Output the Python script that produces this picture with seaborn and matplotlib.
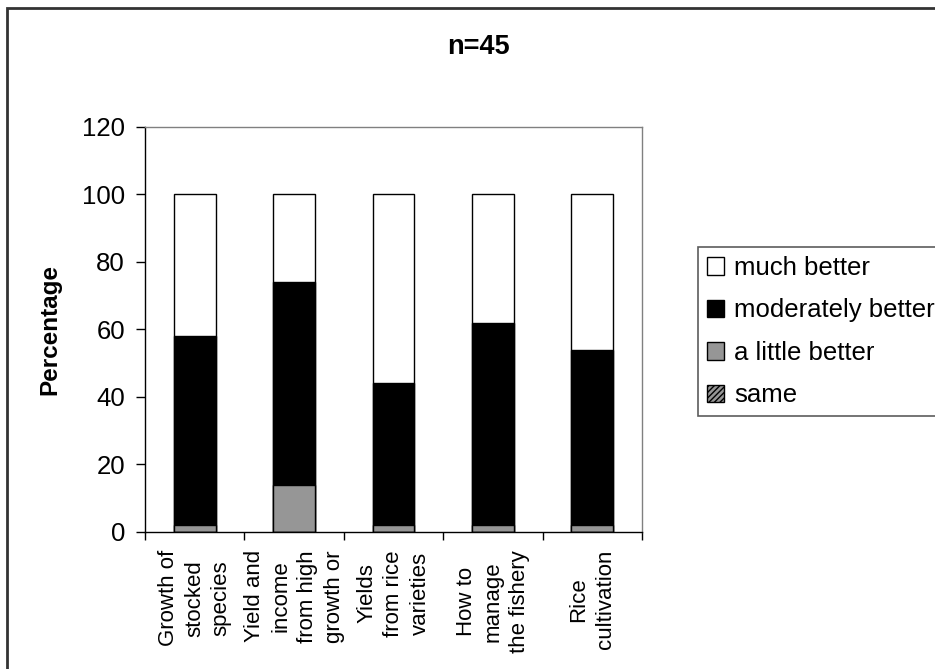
import matplotlib
matplotlib.use("Agg")
import matplotlib.pyplot as plt
from matplotlib.patches import Patch, Rectangle
import numpy as np
import pandas as pd
import seaborn as sns

categories = ["Growth of\nstocked\nspecies",
              "Yield and\nincome\nfrom high\ngrowth or",
              "Yields\nfrom rice\nvarieties",
              "How to\nmanage\nthe fishery",
              "Rice\ncultivation"]
same = [0, 0, 0, 0, 0]
little_better = [2, 14, 2, 2, 2]
moderately_better = [56, 60, 42, 60, 52]
much_better = [42, 26, 56, 38, 46]
yticks = [0, 20, 40, 60, 80, 100, 120]

sns.set_style("white")
plt.rcParams['font.family'] = ['Liberation Sans', 'DejaVu Sans']
plt.rcParams['text.color'] = 'black'
plt.rcParams['axes.labelcolor'] = 'black'
plt.rcParams['xtick.color'] = 'black'
plt.rcParams['ytick.color'] = 'black'

df = pd.DataFrame({"cat": categories, "same": same, "little": little_better,
                   "moderate": moderately_better, "much": much_better})
# cumulative tops, drawn back to front so each layer covers the one above
df["top_same"] = df["same"]
df["top_little"] = df["top_same"] + df["little"]
df["top_moderate"] = df["top_little"] + df["moderate"]
df["top_much"] = df["top_moderate"] + df["much"]

fig = plt.figure(figsize=(9.35, 6.69), dpi=100)
ax = fig.add_axes([0.1551, 0.2048, 0.5316, 0.6054])

layers = [("top_much", "white"), ("top_moderate", "black"),
          ("top_little", "#969696")]
for col, color in layers:
    sns.barplot(data=df, x="cat", y=col, order=categories, color=color,
                width=0.42, edgecolor="black", linewidth=1.0, saturation=1,
                ax=ax, zorder=2)
sns.barplot(data=df, x="cat", y="top_same", order=categories, color="#969696",
            width=0.42, edgecolor="black", linewidth=1.0, saturation=1,
            hatch="//////", ax=ax, zorder=3)

ax.set_ylim(0, 120)
ax.set_xlim(-0.5, len(categories) - 0.5)
ax.set_yticks(yticks)
ax.set_yticklabels([str(v) for v in yticks], fontsize=18.5)
ax.tick_params(axis="y", direction="out", length=6.5, width=1, pad=8,
               left=True, color="black")

ax.set_xticks(range(len(categories)))
ax.set_xticklabels(categories, rotation=90, fontsize=16, ha="center",
                   va="top", multialignment="center", linespacing=1.35)
ax.set_xticks(np.arange(-0.5, len(categories)), minor=True)
ax.tick_params(axis="x", which="major", length=0, pad=13)
ax.tick_params(axis="x", which="minor", direction="out", length=6, width=1,
               bottom=True, color="black")
ax.set_xlabel("")

ax.set_ylabel("Percentage", fontsize=17.5, fontweight="bold")
ax.yaxis.set_label_coords(-0.168, 0.5)

for side in ["left", "bottom"]:
    ax.spines[side].set_color("black")
    ax.spines[side].set_linewidth(1.0)
for side in ["top", "right"]:
    ax.spines[side].set_color("#808080")
    ax.spines[side].set_linewidth(1.0)

fig.text(478 / 935, 1 - 47 / 669, "n=45", ha="center", va="center",
         fontsize=19.5, fontweight="bold")

handles = [Patch(facecolor="white", edgecolor="black", label="much better"),
           Patch(facecolor="black", edgecolor="black", label="moderately better"),
           Patch(facecolor="#969696", edgecolor="black", label="a little better"),
           Patch(facecolor="#969696", edgecolor="black", hatch="//////",
                 label="same")]
leg = fig.legend(handles=handles, loc="upper left",
                 bbox_to_anchor=(698 / 935, 1 - 247 / 669),
                 fontsize=18.5, frameon=True, fancybox=False,
                 handlelength=0.66, handleheight=0.66, handletextpad=0.4,
                 labelspacing=0.72, borderpad=0.35, borderaxespad=0)
leg.get_frame().set_edgecolor("#333333")
leg.get_frame().set_linewidth(1.2)

fig.patches.append(Rectangle((7 / 935, -0.1), 1.2, 1.1 - 8 / 669,
                             transform=fig.transFigure, fill=False,
                             edgecolor="#333333", linewidth=2))

fig.savefig("out.png", dpi=100)
